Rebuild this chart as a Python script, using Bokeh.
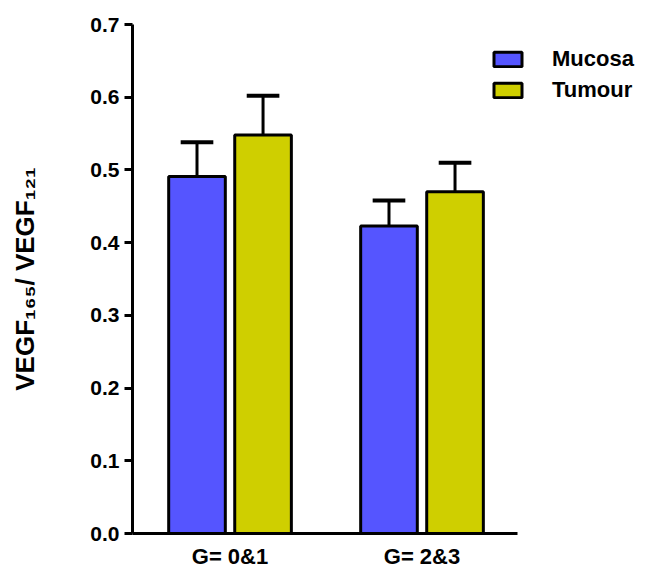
from bokeh.plotting import figure
from bokeh.models import FixedTicker, Legend, LegendItem, NumeralTickFormatter
from bokeh.embed import file_html
from bokeh.resources import INLINE

# VEGF165 / VEGF121 ratio by grade group, mean + upper error
groups = ["G= 0&1", "G= 2&3"]
series = ["Mucosa", "Tumour"]
mucosa_mean = [0.491, 0.423]
mucosa_err = [0.047, 0.035]
tumour_mean = [0.548, 0.470]
tumour_err = [0.054, 0.040]
y_ticks = [0.0, 0.1, 0.2, 0.3, 0.4, 0.5, 0.6, 0.7]

colors = {"Mucosa": "#5555FF", "Tumour": "#CFCF00"}
FONT = "Liberation Sans"
pos = [1, 2]
offset = 0.172
bar_w = 0.295
cap_w = 0.085

# the frame runs to the right edge so the legend has room; the x axis line
# itself is limited with bounds
p = figure(width=654, height=571, x_range=(0.492, 3.211), y_range=(0, 0.7),
           output_backend="svg", toolbar_location=None,
           min_border_left=132, min_border_right=0,
           min_border_top=24, min_border_bottom=35)
p.grid.visible = False
p.outline_line_color = None
p.background_fill_color = "white"

renderers = {}
for name, means, errs, sign in [("Mucosa", mucosa_mean, mucosa_err, -1),
                                ("Tumour", tumour_mean, tumour_err, 1)]:
    xs = [x + sign * offset for x in pos]
    tops = [m + e for m, e in zip(means, errs)]
    # error bars (upper only)
    p.segment(x0=xs, y0=means, x1=xs, y1=tops, line_color="black", line_width=3)
    p.segment(x0=[x - cap_w for x in xs], y0=tops, x1=[x + cap_w for x in xs], y1=tops,
              line_color="black", line_width=4)
    renderers[name] = p.vbar(x=xs, top=means, bottom=0, width=bar_w,
                             fill_color=colors[name], line_color="black", line_width=3)

# y axis
ya = p.yaxis[0]
ya.ticker = FixedTicker(ticks=y_ticks)
ya.formatter = NumeralTickFormatter(format="0.0")
ya.axis_line_width = 3
ya.major_tick_line_width = 3
ya.major_tick_out = 8
ya.major_tick_in = 0
ya.minor_tick_line_color = None
ya.major_label_standoff = 5
ya.major_label_text_font = FONT
ya.major_label_text_font_style = "bold"
ya.major_label_text_font_size = "21px"
ya.major_label_text_color = "black"
ya.axis_label = "VEGF\u2081\u2086\u2085/ VEGF\u2081\u2082\u2081"
ya.axis_label_text_font = FONT
ya.axis_label_text_font_style = "bold"
ya.axis_label_text_font_size = "26px"
ya.axis_label_text_color = "black"
ya.axis_label_standoff = 47

# x axis
xa = p.xaxis[0]
xa.bounds = (0.492, 2.497)
xa.ticker = FixedTicker(ticks=pos)
xa.major_label_overrides = {1: groups[0], 2: groups[1]}
xa.axis_line_width = 3
xa.major_tick_line_color = None
xa.major_tick_out = 0
xa.major_tick_in = 0
xa.minor_tick_line_color = None
xa.major_label_standoff = 10
xa.major_label_text_font = FONT
xa.major_label_text_font_style = "bold"
xa.major_label_text_font_size = "22px"
xa.major_label_text_color = "black"

legend = Legend(items=[LegendItem(label=s, renderers=[renderers[s]]) for s in series],
                location=(358, 430), orientation="vertical",
                glyph_width=35, glyph_height=18, label_standoff=27,
                label_text_font=FONT, label_text_font_style="bold",
                label_text_font_size="22px", label_text_color="black",
                label_height=18, spacing=5,
                padding=0, margin=0, border_line_color=None,
                background_fill_alpha=0)
p.add_layout(legend)

open("out.html", "w").write(file_html(p, INLINE))
